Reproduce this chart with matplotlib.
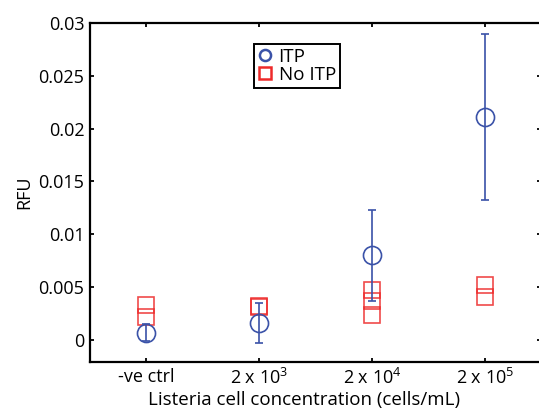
import numpy as np
import matplotlib
matplotlib.use("Agg")
import matplotlib.pyplot as plt

plt.rcParams['font.family'] = ['Open Sans', 'DejaVu Sans']
plt.rcParams['mathtext.default'] = 'regular'

# data
categories = ['-ve ctrl', '2 x 10$^{3}$', '2 x 10$^{4}$', '2 x 10$^{5}$']
itp_mean = [0.0007, 0.0016, 0.0080, 0.0211]
itp_err = [0.0008, 0.0019, 0.0043, 0.0079]
# replicates without ITP (one list per category)
noitp = [[0.0022, 0.0033],
         [0.0031, 0.0032],
         [0.0024, 0.0037, 0.0047],
         [0.0041, 0.0052]]
yticks = [0, 0.005, 0.01, 0.015, 0.02, 0.025, 0.03]
ytick_labels = ['0', '0.005', '0.01', '0.015', '0.02', '0.025', '0.03']

blue = '#3a52a8'
red = '#ee2a2a'

fig = plt.figure(figsize=(5.39, 4.11), dpi=100)
ax = fig.add_axes([0.167, 0.119, 0.837, 0.825])

x = np.arange(1, len(categories) + 1)

for i, vals in enumerate(noitp):
    ax.plot([x[i]] * len(vals), vals, ls='none', marker='s', ms=11.5,
            mfc='none', mec=red, mew=1.2, alpha=0.85)

ax.errorbar(x, itp_mean, yerr=itp_err, fmt='o', ms=13, mfc='none',
            mec=blue, mew=1.2, ecolor=blue, elinewidth=1.2, capsize=3,
            capthick=1.2)

# legend handles
h1, = ax.plot([], [], ls='none', marker='o', ms=8, mfc='none', mec=blue, mew=1.8)
h2, = ax.plot([], [], ls='none', marker='s', ms=8, mfc='none', mec=red, mew=1.8)
leg = ax.legend([h1, h2], ['ITP', 'No ITP'], loc='upper left',
                bbox_to_anchor=(0.364, 0.938), borderaxespad=0,
                fancybox=False, framealpha=1, fontsize=13.5,
                handlelength=0.8, handletextpad=0.3, borderpad=0.2,
                labelspacing=0.0)
leg.get_frame().set_edgecolor('black')
leg.get_frame().set_linewidth(1.4)

ax.set_xlim(0.5, 4.5)
ax.set_ylim(-0.0021, 0.03)
ax.set_xticks(x)
ax.set_xticklabels(categories, fontsize=13)
ax.set_yticks(yticks)
ax.set_yticklabels(ytick_labels, fontsize=13)
ax.tick_params(direction='in', length=3, width=1.3, top=True, right=True, pad=4)
for s in ax.spines.values():
    s.set_linewidth(1.6)

ax.set_xlabel('Listeria cell concentration (cells/mL)', fontsize=13.5)
ax.xaxis.set_label_coords(0.475, -0.085)
ax.set_ylabel('RFU', fontsize=13, labelpad=4)

fig.savefig('out.png', dpi=100)
